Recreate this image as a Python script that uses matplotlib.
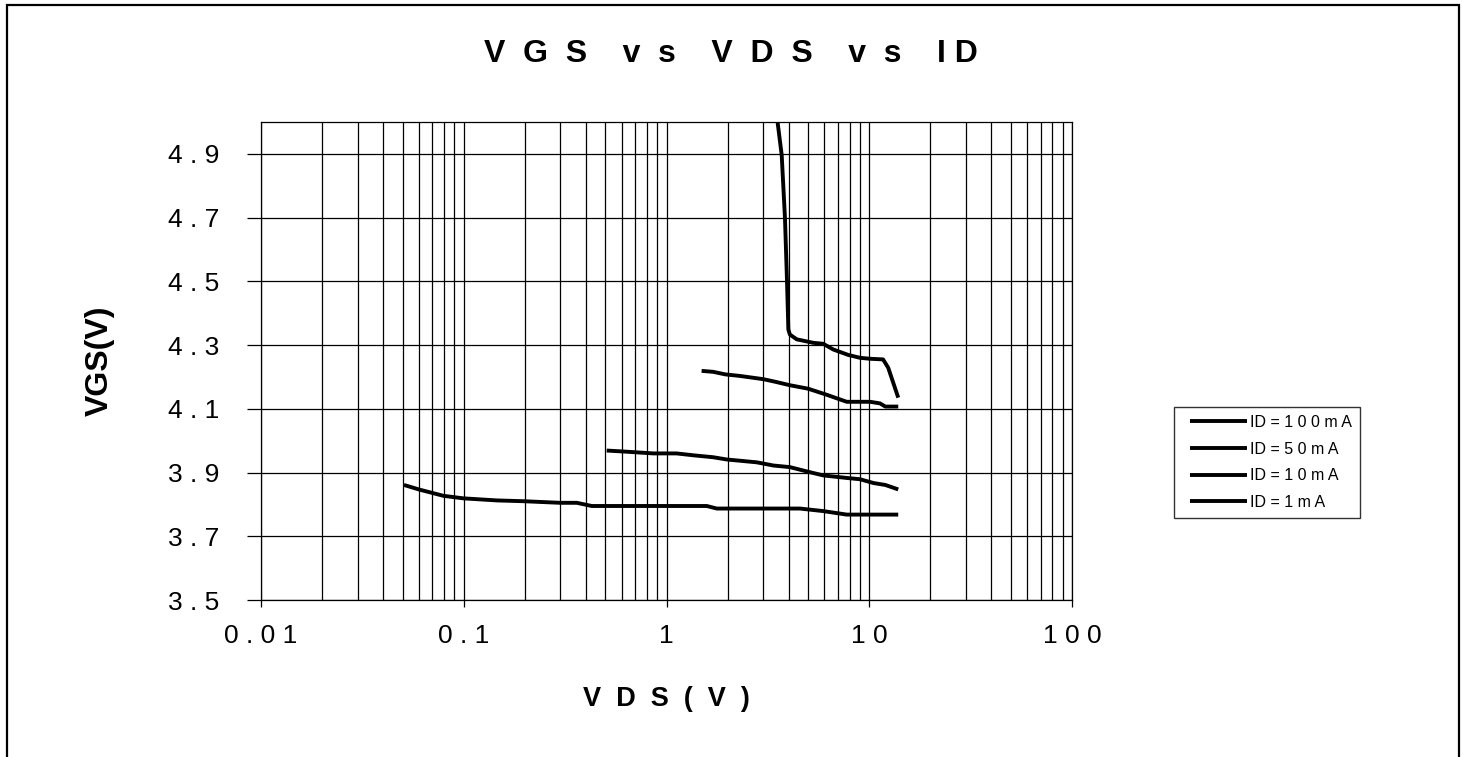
import matplotlib
matplotlib.use("Agg")
import matplotlib.pyplot as plt
from matplotlib.ticker import FixedLocator, FixedFormatter, NullFormatter
from matplotlib.patches import Rectangle
from matplotlib.lines import Line2D
from matplotlib.legend_handler import HandlerLine2D

plt.rcParams['font.family'] = ['Liberation Sans', 'DejaVu Sans']

# ---- data ----
vds_100 = [3.53, 3.70, 3.84, 3.93, 3.97, 3.99, 4.06, 4.39, 5.30, 5.93, 6.65, 7.88, 9.0, 10.1, 11.7, 12.4, 13.9]
vgs_100 = [5.00, 4.896, 4.698, 4.50, 4.40, 4.349, 4.333, 4.318, 4.307, 4.304, 4.286, 4.269, 4.26, 4.257, 4.255, 4.229, 4.135]

vds_50 = [1.49, 1.70, 1.95, 2.31, 3.0, 3.43, 4.06, 5.0, 6.17, 7.74, 10.1, 11.3, 12.0, 13.9]
vgs_50 = [4.219, 4.216, 4.208, 4.203, 4.193, 4.185, 4.174, 4.163, 4.144, 4.122, 4.122, 4.117, 4.107, 4.107]

vds_10 = [0.507, 0.612, 0.861, 1.12, 1.36, 1.70, 1.98, 2.79, 3.37, 4.06, 5.10, 5.93, 7.74, 9.0, 10.5, 12.0, 13.9]
vgs_10 = [3.969, 3.966, 3.960, 3.960, 3.954, 3.948, 3.941, 3.932, 3.922, 3.917, 3.901, 3.891, 3.883, 3.879, 3.867, 3.861, 3.847]

vds_1 = [0.0507, 0.0608, 0.0793, 0.0995, 0.1455, 0.197, 0.299, 0.361, 0.428, 1.58, 1.77, 3.6, 4.55, 5.93, 7.74, 13.9]
vgs_1 = [3.861, 3.846, 3.827, 3.819, 3.8125, 3.810, 3.805, 3.805, 3.795, 3.795, 3.787, 3.787, 3.787, 3.779, 3.768, 3.768]

series_labels = ["ID = 1 0 0 m A", "ID = 5 0 m A", "ID = 1 0 m A", "ID = 1 m A"]

x_ticks = [0.01, 0.1, 1, 10, 100]
x_ticklabels = ["0 . 0 1", "0 . 1", "1", "1 0", "1 0 0"]
y_ticks = [3.5, 3.7, 3.9, 4.1, 4.3, 4.5, 4.7, 4.9]
y_ticklabels = ["3 . 5", "3 . 7", "3 . 9", "4 . 1", "4 . 3", "4 . 5", "4 . 7", "4 . 9"]

title = "V  G  S    v  s    V  D  S    v  s    I D"
xlabel = "V  D  S  (  V  )"
ylabel = "VGS(V)"

# ---- figure ----
fig = plt.figure(figsize=(14.62, 7.57), dpi=100)
fig.patches.append(Rectangle((0.0045, -0.01), 0.9935, 1.003, transform=fig.transFigure,
                             fill=False, edgecolor='black', linewidth=1.6))

ax = fig.add_axes([261/1462, 1 - 600/757, (1072-261)/1462, (600-122)/757])
ax.set_xscale('log')
ax.set_xlim(0.01, 100)
ax.set_ylim(3.5, 5.0)

for xs, ys, lab in zip([vds_100, vds_50, vds_10, vds_1], [vgs_100, vgs_50, vgs_10, vgs_1], series_labels):
    ax.plot(xs, ys, color='black', linewidth=2.8, label=lab, solid_capstyle='butt', zorder=3)

ax.xaxis.set_major_locator(FixedLocator(x_ticks))
ax.xaxis.set_major_formatter(FixedFormatter(x_ticklabels))
minor = [m * 10.0**e for e in range(-2, 2) for m in range(2, 10)]
ax.xaxis.set_minor_locator(FixedLocator(minor))
ax.xaxis.set_minor_formatter(NullFormatter())
ax.yaxis.set_major_locator(FixedLocator(y_ticks))
ax.yaxis.set_major_formatter(FixedFormatter(y_ticklabels))

ax.grid(True, which='major', axis='both', color='black', linewidth=0.9)
ax.grid(True, which='minor', axis='x', color='black', linewidth=0.9)
ax.tick_params(axis='x', which='major', direction='out', length=5, width=0.9, labelsize=19, pad=12)
ax.tick_params(axis='x', which='minor', length=0)
ax.tick_params(axis='y', which='major', direction='out', length=10, width=0.9, labelsize=19, pad=20)
for s in ax.spines.values():
    s.set_linewidth(0.9)
    s.set_color('black')

fig.text(0.5, 1 - 54/757, title, fontsize=23, fontweight='bold', ha='center', va='center')
ax.set_xlabel(xlabel, fontsize=19.5, fontweight='bold', labelpad=28)
ax.set_ylabel(ylabel, fontsize=23, fontweight='bold', labelpad=38)

leg = ax.legend(loc='upper left', bbox_to_anchor=(1174/1462, 1 - 407/757), bbox_transform=fig.transFigure,
                frameon=True, fancybox=False, fontsize=11.5, handlelength=4.06, handletextpad=0.2,
                labelspacing=0.73, borderpad=0.5, borderaxespad=0,
                handler_map={Line2D: HandlerLine2D(xpad=0.5)})
leg.get_frame().set_edgecolor('black')
leg.get_frame().set_linewidth(1.0)

fig.savefig('out.png', dpi=100)
